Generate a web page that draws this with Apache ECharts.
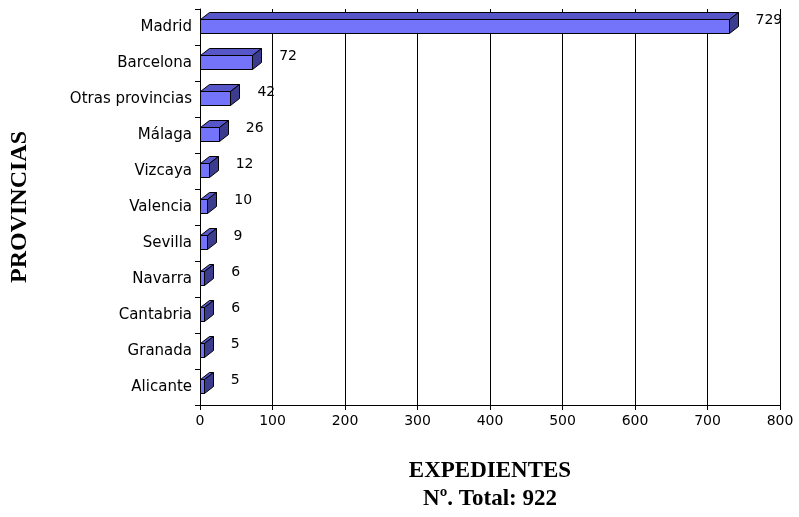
<!DOCTYPE html>
<html>
<head>
<meta charset="utf-8">
<script src="https://cdn.jsdelivr.net/npm/echarts@6/dist/echarts.min.js"></script>
<style>
  html, body { margin: 0; padding: 0; background: #fff; }
  #chart { width: 799px; height: 517px; }
</style>
</head>
<body>
<div id="chart"></div>
<script>
// Expedientes por provincia
const provinces = ['Madrid', 'Barcelona', 'Otras provincias', 'Málaga', 'Vizcaya', 'Valencia',
                   'Sevilla', 'Navarra', 'Cantabria', 'Granada', 'Alicante'];
const expedientes = [729, 72, 42, 26, 12, 10, 9, 6, 6, 5, 5];
const axisMin = 0;
const axisMax = 800;
const axisStep = 100;
const yTitle = 'PROVINCIAS';
const xTitle = 'EXPEDIENTES';
const totalLine = 'Nº. Total: 922';

const chart = echarts.init(document.getElementById('chart'), null, { renderer: 'canvas' });

// Oblique 3D bar: front face, top face and right side face
function renderBar(params, api) {
  const v = api.value(0);
  const cat = api.value(1);
  const base = api.coord([0, cat]);
  const tip = api.coord([v, cat]);
  const h = 14, dx = 9, dy = 7;
  const cy = Math.round(base[1]) - 1;
  const x0 = Math.round(base[0]) + 0.5;
  const x1 = Math.round(tip[0]) + 0.5;
  const y0 = cy - h / 2 + 0.5;
  const y1 = cy + h / 2 + 0.5;
  const stroke = { stroke: '#000', lineWidth: 1 };
  return {
    type: 'group',
    children: [
      {
        type: 'polygon',
        shape: { points: [[x0, y0], [x1, y0], [x1 + dx, y0 - dy], [x0 + dx, y0 - dy]] },
        style: Object.assign({ fill: '#5656c8' }, stroke)
      },
      {
        type: 'rect',
        shape: { x: x0, y: y0, width: x1 - x0, height: y1 - y0 },
        style: Object.assign({ fill: '#7474fa' }, stroke)
      },
      {
        type: 'polygon',
        shape: { points: [[x1, y0], [x1 + dx, y0 - dy], [x1 + dx, y1 - dy], [x1, y1]] },
        style: Object.assign({ fill: '#3c3c8e' }, stroke)
      },
      {
        type: 'text',
        x: tip[0] + 27,
        y: base[1] - 6.5,
        style: {
          text: String(v),
          fill: '#000',
          font: '14px "DejaVu Sans", sans-serif',
          align: 'left',
          verticalAlign: 'middle'
        }
      }
    ]
  };
}

chart.setOption({
  animation: false,
  backgroundColor: '#fff',
  grid: { left: 200, right: 19, top: 9, bottom: 112, containLabel: false, outerBoundsMode: 'none' },
  xAxis: {
    type: 'value',
    min: axisMin,
    max: axisMax,
    interval: axisStep,
    name: xTitle + '\n' + totalLine,
    nameLocation: 'middle',
    nameGap: 52,
    nameTextStyle: {
      fontFamily: '"Liberation Serif", serif',
      fontWeight: 'bold',
      fontSize: 23,
      color: '#000',
      lineHeight: 28,
      verticalAlign: 'top'
    },
    axisLine: { show: true, lineStyle: { color: '#000', width: 1 } },
    axisTick: { show: true, length: 5, lineStyle: { color: '#000' } },
    axisLabel: {
      margin: 9,
      color: '#000',
      fontFamily: '"DejaVu Sans", sans-serif',
      fontSize: 14
    },
    splitLine: { show: true, lineStyle: { color: '#000', width: 1 } }
  },
  yAxis: {
    type: 'category',
    data: provinces,
    inverse: true,
    name: yTitle,
    nameLocation: 'middle',
    nameRotate: 90,
    nameGap: 168,
    nameTextStyle: {
      fontFamily: '"Liberation Serif", serif',
      fontWeight: 'bold',
      fontSize: 24,
      color: '#000'
    },
    axisLine: { show: true, lineStyle: { color: '#000', width: 1 } },
    axisTick: { show: true, length: 5, alignWithLabel: false, lineStyle: { color: '#000' } },
    axisLabel: {
      margin: 8,
      color: '#000',
      fontFamily: '"DejaVu Sans", sans-serif',
      fontSize: 15
    },
    splitLine: { show: false }
  },
  series: [{
    type: 'custom',
    renderItem: renderBar,
    encode: { x: 0, y: 1 },
    data: expedientes.map((v, i) => [v, i]),
    clip: false
  }]
});
</script>
</body>
</html>
